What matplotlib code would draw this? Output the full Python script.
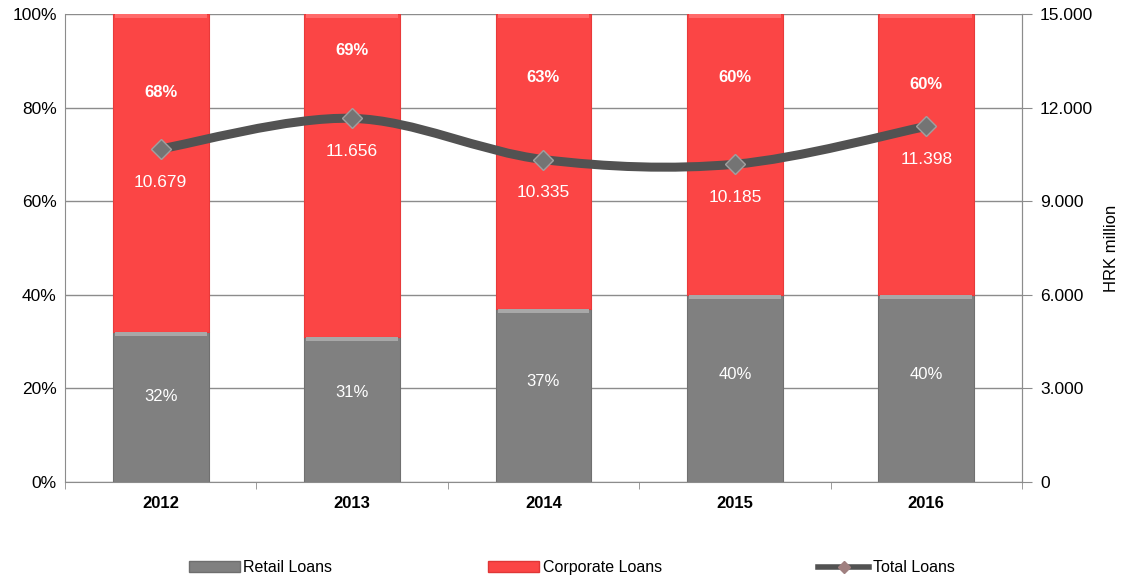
import numpy as np
import matplotlib.pyplot as plt
from matplotlib.path import Path
from matplotlib.patches import PathPatch, Patch
from matplotlib.lines import Line2D
from matplotlib.ticker import FixedLocator

plt.rcParams['font.family'] = ['Liberation Sans', 'DejaVu Sans']

years = ["2012", "2013", "2014", "2015", "2016"]
retail_pct = [32, 31, 37, 40, 40]
corporate_pct = [68, 69, 63, 60, 60]
total_loans = [10679, 11656, 10335, 10185, 11398]
total_labels = ["10.679", "11.656", "10.335", "10.185", "11.398"]

# where the percent labels sit inside the bars (in % of axis)
corp_label_y = [83.3, 92.3, 86.5, 86.5, 85.0]
retail_label_y = [18.2, 19.2, 21.4, 22.9, 22.9]

red = "#fb4545"
gray = "#808080"
line_col = "#525252"

fig = plt.figure(figsize=(11.25, 5.78), dpi=100)
ax = fig.add_axes([0.0578, 0.166, 0.8506, 0.8098])
ax2 = ax.twinx()

x = np.arange(len(years))
w = 0.5
ax.bar(x, retail_pct, w, color=gray, edgecolor="#707070", linewidth=0.8, zorder=2)
ax.bar(x, corporate_pct, w, bottom=retail_pct, color=red, edgecolor="#e83a3a", linewidth=0.8, zorder=2)
# soft bevel on top of each segment
ax.bar(x, [0.8] * len(x), w * 0.96, bottom=np.array(retail_pct) - 0.8, color="#a8a8a8", linewidth=0, zorder=3)
ax.bar(x, [0.8] * len(x), w * 0.96, bottom=np.array(retail_pct) + np.array(corporate_pct) - 0.8,
       color="#ff6a6a", linewidth=0, zorder=3)

for i in range(len(x)):
    ax.text(x[i], corp_label_y[i], f"{corporate_pct[i]}%", ha="center", va="center",
            color="white", fontsize=12, fontweight="bold", zorder=5)
    ax.text(x[i], retail_label_y[i], f"{retail_pct[i]}%", ha="center", va="center",
            color="white", fontsize=12, zorder=5)

ax.set_xlim(-0.5, len(x) - 0.5)
ax.set_ylim(0, 100)
ax.set_yticks(range(0, 101, 20))
ax.set_yticklabels([f"{v}%" for v in range(0, 101, 20)], fontsize=12.5)
ax.yaxis.grid(True, color="#8c8c8c", linewidth=1.0, zorder=0)
ax.set_axisbelow(True)
ax.tick_params(axis="y", length=0, pad=6)
ax.set_xticks(x)
ax.set_xticklabels(years, fontsize=12, fontweight="bold")
ax.xaxis.set_minor_locator(FixedLocator(np.arange(-0.5, len(x), 1.0)))
ax.tick_params(axis="x", which="major", length=0, pad=10)
ax.tick_params(axis="x", which="minor", length=5, color="#8c8c8c", direction="out")
ax.spines["top"].set_visible(False)
for s in ["left", "bottom", "right"]:
    ax.spines[s].set_color("#8c8c8c")

# smoothed total loans line (Catmull-Rom as cubic Bezier segments)
ax2.set_ylim(0, 15000)
ax2.set_yticks(range(0, 15001, 3000))
ax2.set_yticklabels(["0", "3.000", "6.000", "9.000", "12.000", "15.000"], fontsize=12.5)
ax2.tick_params(axis="y", length=7, color="#8c8c8c", pad=6)
ax2.set_ylabel("HRK million", fontsize=12, labelpad=8)
for s in ["top", "left", "bottom"]:
    ax2.spines[s].set_visible(False)
ax2.spines["right"].set_color("#8c8c8c")

pts = np.column_stack([x, total_loans]).astype(float)
ext = np.vstack([pts[0], pts, pts[-1]])
verts = [tuple(pts[0])]
codes = [Path.MOVETO]
for i in range(len(pts) - 1):
    p0, p1, p2, p3 = ext[i], ext[i + 1], ext[i + 2], ext[i + 3]
    c1 = p1 + (p2 - p0) / 6
    c2 = p2 - (p3 - p1) / 6
    verts += [tuple(c1), tuple(c2), tuple(p2)]
    codes += [Path.CURVE4] * 3
ax2.add_patch(PathPatch(Path(verts, codes), facecolor="none", edgecolor=line_col,
                        linewidth=6.5, capstyle="round", zorder=4))
ax2.plot(x, total_loans, linestyle="none", marker="D", markersize=10,
         markerfacecolor="#747474", markeredgecolor="#a0a0a0", markeredgewidth=1, zorder=5)
for i in range(len(x)):
    ax2.annotate(total_labels[i], (x[i], total_loans[i]), xytext=(0, -24),
                 textcoords="offset points", ha="center", va="center",
                 color="white", fontsize=12.5, zorder=6)

handles = [
    Patch(facecolor=gray, edgecolor="#6e6e6e"),
    Patch(facecolor=red, edgecolor="#e03636"),
    Line2D([0], [0], color=line_col, linewidth=4, marker="D", markersize=6,
           markerfacecolor="#a08080", markeredgecolor="#a08080"),
]
fig.legend(handles, ["Retail Loans", "Corporate Loans", "Total Loans"],
           loc="lower center", bbox_to_anchor=(0.508, -0.02), ncol=3, frameon=False,
           fontsize=11.5, handlelength=3.2, handleheight=0.6, handletextpad=0.2,
           columnspacing=9.8)

fig.savefig("out.png", dpi=100)
